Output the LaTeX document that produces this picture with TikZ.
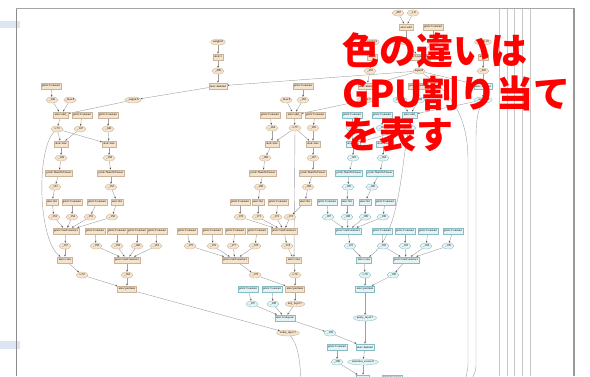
\documentclass[tikz,border=0pt]{standalone}
\usepackage{fontspec}
\newfontfamily\cjk{Noto Sans CJK JP}
\newfontfamily\lblfont{Liberation Serif}
\usetikzlibrary{shapes.geometric,arrows.meta}
\definecolor{tanF}{HTML}{F5E3CC}
\definecolor{tanD}{HTML}{C9B49A}
\definecolor{bluF}{HTML}{E4F4F6}
\definecolor{bluD}{HTML}{86BCC4}
\definecolor{edgeC}{HTML}{A0A0A0}
\definecolor{barC}{HTML}{DCE6F2}
\pgfdeclarelayer{bgzero}
\pgfdeclarelayer{background}
\pgfsetlayers{bgzero,background,main}
\tikzset{
  lbl/.style={font=\lblfont\fontsize{3}{3.4}\selectfont},
  rt/.style={lbl,rectangle,draw=tanD,fill=tanF,line width=0.35pt,inner xsep=1.2pt,inner ysep=0pt,minimum height=6.5pt},
  et/.style={lbl,ellipse,draw=tanD,fill=tanF,line width=0.35pt,inner xsep=0pt,inner ysep=0pt,minimum height=6pt,minimum width=12pt},
  rb/.style={rt,draw=bluD,fill=bluF},
  eb/.style={et,draw=bluD,fill=bluF},
  ed/.style={draw=edgeC,line width=0.4pt,-{Stealth[length=2pt,width=1.6pt,color=black!70]}},
  thru/.style={draw=black!22,line width=0.7pt},
  redtxt/.style={anchor=west,text=red,inner sep=0pt,font=\cjk\bfseries\fontsize{37}{40}\selectfont},
}
\begin{document}
\begin{tikzpicture}[x=1pt,y=-1pt]
\useasboundingbox (0,0) rectangle (590,376);
\begin{pgfonlayer}{bgzero}
\fill[white] (0,0) rectangle (590,376);
\fill[barC] (0,21) rectangle (20,28);
\fill[barC] (0,341) rectangle (20,349);
\draw[black!45,line width=0.8pt] (16,8) -- (16,376);
\draw[black!35,line width=0.6pt] (16,8) -- (574,8);
\draw[black!40,line width=1.3pt] (574,8) -- (574,376);
\foreach \i/\x in {1/499,2/507,3/514,4/522,5/530}{
  \coordinate (vt\i) at (\x,8.5);
  \coordinate (vb\i) at (\x,376);
  \draw[thru] (vt\i) -- (vb\i);
}
\end{pgfonlayer}
% ---------------- top block ----------------
\node[et] (a1) at (398,13) {\_487};
\node[et] (a2) at (413,13) {\_x.8};
\node[rt] (radd) at (406,27) {aten::add};
\node[rt] (ctop) at (433,27) {prim::Constant};
\node[et] (ea) at (406,42) {\_488};
\node[et] (ec) at (433,42) {\_489};
\node[rt] (ln) at (419,57) {aten::layer\_norm};
\node[et] (in8) at (419,71) {input.8};
\node[et] (w8) at (218,42) {weight.8};
\node[rt] (tt1) at (218,57) {aten::t};
\node[et] (te8) at (218,71) {\_490};
\node[rt] (mm1) at (218,86) {aten::matmul};
\node[et] (w9) at (372,42) {weight.9};
\node[rt] (tt2) at (372,57) {aten::t};
\node[et] (te9) at (370,71) {\_491};
\node[rt] (mm2) at (367,86) {aten::matmul};
\node[et] (w10) at (483,42) {weight.10};
\node[rt] (tt3) at (483,57) {aten::t};
\node[et] (te10) at (483,71) {\_492};
\node[rb] (mm3) at (483,86) {aten::matmul};
% ---------------- tan block 1 ----------------
\node[rt] (c1) at (51,86) {prim::Constant};
\node[et] (t1a) at (52,100) {\_146};
\node[et] (b8) at (70,100) {\_bias.8};
\node[et] (o8) at (133,100) {\_output.8};
\node[rt] (add1) at (61,115) {aten::add\_};
\node[rt] (c1b) at (82,115) {prim::Constant};
\node[rt] (c1c) at (108,115) {prim::Constant};
\node[et] (x73) at (57,129) {x.73};
\node[et] (e1b) at (80,129) {\_147};
\node[et] (e1c) at (108,129) {\_148};
\node[rt] (sz1a) at (61,144) {aten::size};
\node[rt] (sz1b) at (109,144) {aten::size};
\node[et] (e1d) at (61,158) {\_149};
\node[et] (e1e) at (109,158) {\_150};
\node[rt] (nt1a) at (59,173) {prim::NumToTensor};
\node[rt] (nt1b) at (111,173) {prim::NumToTensor};
\node[et] (e1f) at (55,187) {\_151};
\node[et] (e1g) at (111,187) {\_152};
\node[rt] (in1a) at (52,202) {aten::Int};
\node[rt] (k1a) at (72,202) {prim::Constant};
\node[rt] (k1b) at (97,202) {prim::Constant};
\node[rt] (in1b) at (117,202) {aten::Int};
\node[et] (f1a) at (54,217) {\_153};
\node[et] (f1b) at (72,217) {\_154};
\node[et] (f1c) at (90,217) {\_155};
\node[et] (f1d) at (112,217) {\_156};
\node[rt] (lc1) at (66,231) {prim::ListConstruct};
\node[et] (g1) at (65,246) {\_157};
\node[rt] (view1) at (65,260) {aten::view};
\node[rt] (pc1) at (95,231) {prim::Constant};
\node[rt] (pc2) at (117,231) {prim::Constant};
\node[rt] (pc3) at (137,231) {prim::Constant};
\node[rt] (pc4) at (157,231) {prim::Constant};
\node[et] (pe1) at (96,246) {\_158};
\node[et] (pe2) at (117,246) {\_159};
\node[et] (pe3) at (137,246) {\_160};
\node[et] (pe4) at (156,246) {\_161};
\node[rt] (plc1) at (127,260) {prim::ListConstruct};
\node[et] (x76) at (82,275) {x.74};
\node[et] (pe1x) at (127,275) {\_162};
\node[rt] (perm1) at (127,289) {aten::permute};
\node[et] (vl7) at (288,333) {value\_layer.7};
% ---------------- tan block 2 ----------------
\node[rt] (c2) at (303,86) {prim::Constant};
\node[et] (b9) at (286,100) {\_bias.9};
\node[et] (t2a) at (303,100) {\_163};
\node[et] (o9) at (365,100) {\_output.9};
\node[rt] (add2) at (294,115) {aten::add\_};
\node[rt] (c2b) at (270,115) {prim::Constant};
\node[rt] (c2c) at (315,115) {prim::Constant};
\node[et] (e2b) at (272,128) {\_164};
\node[et] (x75) at (295,128) {x.75};
\node[et] (e2c) at (313,128) {\_165};
\node[rt] (sz2a) at (272,144) {aten::size};
\node[rt] (sz2b) at (313,144) {aten::size};
\node[et] (e2d) at (265,158) {\_166};
\node[et] (e2e) at (313,158) {\_167};
\node[rt] (nt2a) at (263,173) {prim::NumToTensor};
\node[rt] (nt2b) at (313,173) {prim::NumToTensor};
\node[et] (e2f) at (260,187) {\_168};
\node[et] (e2g) at (308,187) {\_169};
\node[rt] (k2a) at (240,202) {prim::Constant};
\node[rt] (in2a) at (258,202) {aten::Int};
\node[rt] (k2b) at (278,202) {prim::Constant};
\node[rt] (in2b) at (305,202) {aten::Int};
\node[et] (f2a) at (240,217) {\_170};
\node[et] (f2b) at (258,217) {\_171};
\node[et] (f2c) at (276,217) {\_172};
\node[et] (f2d) at (290,217) {\_173};
\node[rt] (lc2) at (284,231) {prim::ListConstruct};
\node[et] (g2) at (287,246) {\_174};
\node[rt] (view2) at (294,260) {aten::view};
\node[rt] (pc5) at (187,231) {prim::Constant};
\node[rt] (pc6) at (212,231) {prim::Constant};
\node[rt] (pc7) at (235,231) {prim::Constant};
\node[rt] (pc8) at (257,231) {prim::Constant};
\node[et] (pe5) at (190,246) {\_175};
\node[et] (pe6) at (213,246) {\_176};
\node[et] (pe7) at (233,246) {\_177};
\node[et] (pe8) at (255,246) {\_178};
\node[rt] (plc2) at (235,260) {prim::ListConstruct};
\node[et] (pe2x) at (255,275) {\_179};
\node[et] (x78) at (295,275) {x.76};
\node[rt] (perm2) at (295,289) {aten::permute};
\node[et] (kl7) at (295,304) {key\_layer.7};
% ---------------- blue block ----------------
\node[rt] (c3) at (418,86) {prim::Constant};
\node[eb] (b10) at (400,100) {\_bias.10};
\node[eb] (t3a) at (419,100) {\_180};
\node[eb] (o10) at (483,100) {\_output.10};
\node[rb] (add3) at (410,115) {aten::add\_};
\node[rb] (c3b) at (352,115) {prim::Constant};
\node[rb] (c3c) at (382,115) {prim::Constant};
\node[eb] (e3b) at (352,128) {\_181};
\node[eb] (e3c) at (382,128) {\_182};
\node[eb] (x77) at (410,128) {x.77};
\node[rb] (sz3a) at (353,144) {aten::size};
\node[rb] (sz3b) at (383,144) {aten::size};
\node[eb] (e3d) at (353,158) {\_183};
\node[eb] (e3e) at (383,158) {\_184};
\node[rb] (nt3a) at (349,173) {prim::NumToTensor};
\node[rb] (nt3b) at (380,173) {prim::NumToTensor};
\node[eb] (e3f) at (348,187) {\_185};
\node[eb] (e3g) at (372,187) {\_186};
\node[rb] (k3a) at (327,202) {prim::Constant};
\node[rb] (in3a) at (347,202) {aten::Int};
\node[rb] (in3b) at (365,202) {aten::Int};
\node[rb] (k3b) at (385,202) {prim::Constant};
\node[eb] (f3a) at (328,217) {\_187};
\node[eb] (f3b) at (347,217) {\_188};
\node[eb] (f3c) at (365,217) {\_189};
\node[eb] (f3d) at (383,217) {\_190};
\node[rb] (lc3) at (348,231) {prim::ListConstruct};
\node[eb] (g3) at (350,246) {\_191};
\node[rb] (view3) at (364,260) {aten::view};
\node[rb] (pc9) at (382,231) {prim::Constant};
\node[rb] (pc10) at (405,231) {prim::Constant};
\node[rb] (pc11) at (428,231) {prim::Constant};
\node[rb] (pc12) at (453,231) {prim::Constant};
\node[eb] (pe9) at (383,246) {\_192};
\node[eb] (pe10) at (405,246) {\_193};
\node[eb] (pe11) at (426,246) {\_194};
\node[eb] (pe12) at (448,246) {\_195};
\node[rb] (plc3) at (406,260) {prim::ListConstruct};
\node[eb] (x79) at (365,275) {x.78};
\node[eb] (pe3x) at (393,275) {\_196};
\node[rb] (perm3) at (365,289) {aten::permute};
\node[eb] (ql7) at (365,318) {query\_layer.7};
\node[rb] (tc1) at (248,289) {prim::Constant};
\node[rb] (tc2) at (272,289) {prim::Constant};
\node[eb] (te1) at (252,304) {\_197};
\node[eb] (te2) at (273,304) {\_198};
\node[rb] (trans) at (285,318) {aten::transpose};
\node[eb] (te3) at (330,333) {\_199};
\node[rb] (cb) at (337,347) {prim::Constant};
\node[rb] (mm) at (365,347) {aten::matmul};
\node[eb] (ce) at (337,362) {\_200};
\node[eb] (as8) at (363,362) {attention\_scores.8};
\node[rb] (div) at (363,378) {aten::div};
\node[rb] (cbot) at (392,378) {prim::Constant};
\coordinate (exA) at (465,381);
\coordinate (exB) at (471,381);
\coordinate (exC) at (301,381);
% ---------------- edges ----------------
\begin{pgfonlayer}{background}
\foreach \a/\b in {a1/radd,a2/radd,radd/ea,ctop/ec,ea/ln,ec/ln,ln/in8,
  w8/tt1,tt1/te8,te8/mm1,in8/mm1,w9/tt2,tt2/te9,te9/mm2,in8/mm2,w10/tt3,tt3/te10,te10/mm3,in8/mm3,
  c1/t1a,t1a/add1,b8/add1,o8/add1,mm1/o8,add1/x73,c1b/e1b,c1c/e1c,x73/sz1a,e1b/sz1a,x73/sz1b,e1c/sz1b,
  sz1a/e1d,sz1b/e1e,e1d/nt1a,e1e/nt1b,nt1a/e1f,nt1b/e1g,e1f/in1a,e1g/in1b,in1a/f1a,k1a/f1b,k1b/f1c,in1b/f1d,
  f1a/lc1,f1b/lc1,f1c/lc1,f1d/lc1,lc1/g1,g1/view1,pc1/pe1,pc2/pe2,pc3/pe3,pc4/pe4,
  pe1/plc1,pe2/plc1,pe3/plc1,pe4/plc1,plc1/pe1x,view1/x76,x76/perm1,pe1x/perm1,perm1/vl7,
  c2/t2a,t2a/add2,b9/add2,o9/add2,mm2/o9,add2/x75,c2b/e2b,c2c/e2c,e2b/sz2a,x75/sz2a,x75/sz2b,e2c/sz2b,
  sz2a/e2d,sz2b/e2e,e2d/nt2a,e2e/nt2b,nt2a/e2f,nt2b/e2g,k2a/f2a,e2f/in2a,in2a/f2b,k2b/f2c,e2g/in2b,in2b/f2d,
  f2a/lc2,f2b/lc2,f2c/lc2,f2d/lc2,lc2/g2,g2/view2,x75/view2,view2/x78,pc5/pe5,pc6/pe6,pc7/pe7,pc8/pe8,
  pe5/plc2,pe6/plc2,pe7/plc2,pe8/plc2,plc2/pe2x,pe2x/perm2,x78/perm2,perm2/kl7,kl7/trans,
  tc1/te1,tc2/te2,te1/trans,te2/trans,trans/te3,te3/mm,ql7/mm,mm/as8,as8/div,cb/ce,ce/div,
  c3/t3a,t3a/add3,b10/add3,o10/add3,mm3/o10,add3/x77,c3b/e3b,c3c/e3c,x77/sz3a,e3b/sz3a,x77/sz3b,e3c/sz3b,
  sz3a/e3d,sz3b/e3e,e3d/nt3a,e3e/nt3b,nt3a/e3f,nt3b/e3g,k3a/f3a,e3f/in3a,in3a/f3b,e3g/in3b,in3b/f3c,k3b/f3d,
  f3a/lc3,f3b/lc3,f3c/lc3,f3d/lc3,lc3/g3,g3/view3,view3/x79,x79/perm3,pc9/pe9,pc10/pe10,pc11/pe11,pc12/pe12,
  pe9/plc3,pe10/plc3,pe11/plc3,pe12/plc3,plc3/pe3x,pe3x/perm3,perm3/ql7}
  \draw[ed] (\a) -- (\b);
\draw[ed] (x73) .. controls (36,150) and (38,240) .. (view1);
\draw[ed] (x77) .. controls (402,150) and (402,235) .. (view3);
\draw[ed] (vl7) .. controls (298,345) and (300,360) .. (exC);
\draw[ed] (in8) .. controls (445,88) and (468,110) .. (468,160) -- (468,364) .. controls (468,371) and (466,376) .. (exA);
\draw[ed] (o10) .. controls (478,112) and (476,118) .. (476,140) -- (476,366) .. controls (476,372) and (473,376) .. (exB);
\end{pgfonlayer}
% ---------------- overlay text ----------------
\node[redtxt] (tx1) at (342,50) {色の違いは};
\node[redtxt] (tx2) at (342,93) {GPU割り当て};
\node[redtxt] (tx3) at (342,134) {を表す};
\end{tikzpicture}
\end{document}
